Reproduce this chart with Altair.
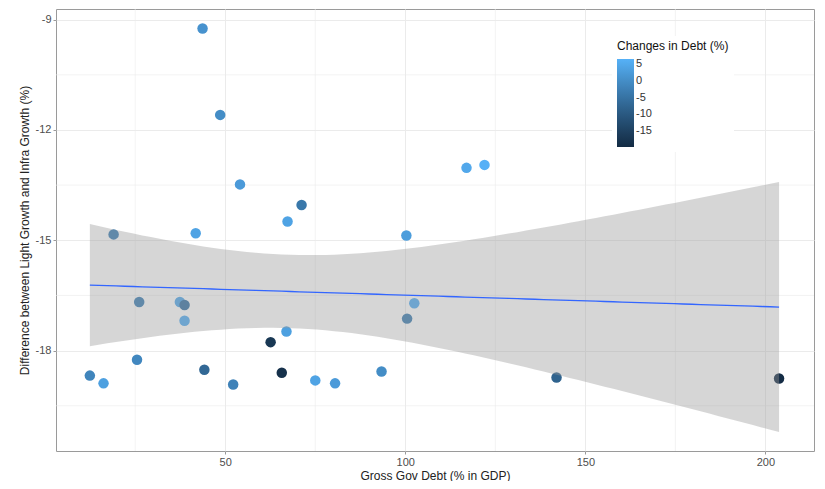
import altair as alt
import numpy as np
import pandas as pd

# Gross government debt (% of GDP)
debt = [43.7, 48.6, 54.1, 71.2, 67.3, 41.8, 19.0, 117.0, 122.0, 100.3,
        102.5, 100.5, 26.1, 37.4, 38.7, 38.7, 67.0, 62.6, 25.5, 12.4,
        16.2, 44.2, 52.2, 65.7, 75.0, 80.5, 93.4, 142.0, 203.8]
# Difference between light growth and infra growth (%)
diff = [-9.24, -11.59, -13.48, -14.04, -14.49, -14.81, -14.84, -13.03, -12.95, -14.87,
        -16.71, -17.13, -16.68, -16.68, -16.76, -17.19, -17.48, -17.77, -18.25, -18.68,
        -18.89, -18.52, -18.92, -18.60, -18.81, -18.89, -18.57, -18.73, -18.76]
# Changes in debt (%)
change = [1.0, 0.0, 2.5, -4.0, 4.0, 4.0, -2.5, 5.0, 6.5, 3.0,
          6.0, -3.0, -2.5, 5.0, -5.0, 6.0, 3.5, -17.0, -1.0, -1.5,
          3.5, -7.0, -2.0, -18.5, 4.0, 2.5, 0.0, -8.0, -19.5]

x_ticks = [50, 100, 150, 200]
y_ticks = [-18, -15, -12, -9]
x_minor = [25, 75, 125, 175]
y_minor = [-19.5, -16.5, -13.5, -10.5]
legend_ticks = [5, 0, -5, -10, -15]

df = pd.DataFrame({"debt": debt, "diff": diff, "change": change})

# linear model with 95% confidence band (as geom_smooth(method="lm"))
x = np.array(debt)
y = np.array(diff)
n = len(x)
b1, b0 = np.polyfit(x, y, 1)
resid = y - (b0 + b1 * x)
s = np.sqrt(np.sum(resid ** 2) / (n - 2))
xbar = x.mean()
sxx = np.sum((x - xbar) ** 2)
t_crit = 2.0518  # t(0.975, df=27)
xs = np.linspace(x.min(), x.max(), 80)
fit = b0 + b1 * xs
se = s * np.sqrt(1.0 / n + (xs - xbar) ** 2 / sxx)
band = pd.DataFrame({"x": xs, "fit": fit, "lo": fit - t_crit * se, "hi": fit + t_crit * se})

xdom = [3, 213.5]
ydom = [-20.73, -8.71]

hyphen = "datum.value < 0 ? '-' + abs(datum.value) : '' + datum.value"

xscale = alt.Scale(domain=xdom, nice=False, zero=False)
yscale = alt.Scale(domain=ydom, nice=False, zero=False)

xaxis = alt.Axis(values=x_ticks, title="Gross Gov Debt (% in GDP)", grid=True)
yaxis = alt.Axis(values=y_ticks, title="Difference between Light Growth and Infra Growth (%)",
                 grid=True, labelExpr=hyphen)

minor_x = alt.Chart(pd.DataFrame({"v": x_minor})).mark_rule(
    color="#EBEBEB", strokeWidth=0.6
).encode(x=alt.X("v:Q", scale=xscale, axis=xaxis))

minor_y = alt.Chart(pd.DataFrame({"v": y_minor})).mark_rule(
    color="#EBEBEB", strokeWidth=0.6
).encode(y=alt.Y("v:Q", scale=yscale, axis=yaxis))

points = alt.Chart(df).mark_circle(size=110, opacity=1).encode(
    x=alt.X("debt:Q", scale=xscale, axis=xaxis),
    y=alt.Y("diff:Q", scale=yscale, axis=yaxis),
    color=alt.Color(
        "change:Q",
        scale=alt.Scale(domain=[-19.8, 6.6], range=["#132B43", "#56B1F7"], interpolate="lab"),
        legend=alt.Legend(
            title="Changes in Debt (%)",
            values=legend_ticks,
            labelExpr=hyphen,
            orient="none",
            legendX=556,
            legendY=27,
            direction="vertical",
            gradientLength=88,
            gradientThickness=17,
            labelOverlap=False,
            fillColor="white",
            padding=5,
        ),
    ),
)

ribbon = alt.Chart(band).mark_area(color="#999999", opacity=0.4).encode(
    x=alt.X("x:Q", scale=xscale, axis=xaxis),
    y=alt.Y("lo:Q", scale=yscale, axis=yaxis),
    y2="hi:Q",
)

line = alt.Chart(band).mark_line(color="#3366FF", strokeWidth=1.3).encode(
    x=alt.X("x:Q", scale=xscale, axis=xaxis),
    y=alt.Y("fit:Q", scale=yscale, axis=yaxis),
)

chart = alt.layer(minor_x, minor_y, points, ribbon, line).properties(
    width=758,
    height=442,
    padding={"left": 10, "top": 0, "right": 2, "bottom": 0},
).configure_view(
    stroke="#9a9a9a", strokeWidth=1
).configure_axis(
    gridColor="#EBEBEB",
    gridWidth=1,
    domain=False,
    tickColor="#9a9a9a",
    tickSize=3,
    labelColor="#4D4D4D",
    labelFont="Liberation Sans",
    labelFontSize=11,
    labelPadding=2,
    titleFont="Liberation Sans",
    titleFontSize=12,
    titleFontWeight="normal",
    titleColor="#222222",
).configure_axisX(
    titlePadding=3,
).configure_axisY(
    titlePadding=4,
).configure_legend(
    titleFont="Liberation Sans",
    titleFontSize=12,
    titleFontWeight="normal",
    titleColor="#111111",
    labelFont="Liberation Sans",
    labelFontSize=11,
    labelColor="#333333",
    titlePadding=6,
)

chart.save("out.html", embed_options={"renderer": "svg", "actions": False})
